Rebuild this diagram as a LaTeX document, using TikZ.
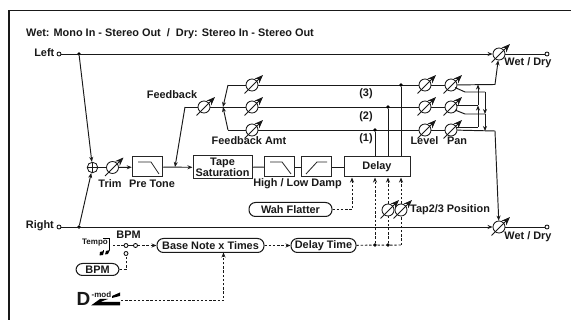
\documentclass[tikz,border=0pt]{standalone}
\usepackage{fontspec}
\setmainfont{Liberation Sans}
\usetikzlibrary{arrows.meta,calc}
\tikzset{
  x=1pt,y=-1pt,
  wire/.style={line width=0.95pt,draw=black!90},
  arr/.style={wire,-{Stealth[length=5pt,width=4pt]}},
  dsh/.style={wire,dash pattern=on 2.4pt off 1.8pt},
  darr/.style={dsh,-{Stealth[length=5pt,width=4pt]}},
  lbl/.style={font=\bfseries\fontsize{10.9}{12}\selectfont,inner sep=0pt,text=black!90},
  fx/.style={draw=black!85,line width=1pt,fill=white,inner sep=0pt,align=center,font=\bfseries\fontsize{10.9}{11}\selectfont,text=black!90},
  pill/.style={draw=black!90,line width=1pt,fill=white,rounded corners=6.5pt,inner sep=0pt,font=\bfseries\fontsize{10.9}{12}\selectfont,text=black!90},
  term/.style={circle,draw=black,line width=0.8pt,fill=white,minimum size=4pt,inner sep=0pt},
  jdot/.style={circle,fill=black,minimum size=3.6pt,inner sep=0pt},
  knob/.style={circle,draw=black!90,line width=0.85pt,fill=white,minimum size=12pt,inner sep=0pt},
}
\newcommand{\knobat}[2]{%
  \node[knob] (#2) at (#1) {};
  \draw[line width=0.85pt,black!90,-{Stealth[length=8.5pt,width=6.5pt]}] ($(#1)+(-7.5,8.5)$) -- ($(#1)+(11,-10)$);
}
\begin{document}
\begin{tikzpicture}
\useasboundingbox (0,0) rectangle (571,320);
\fill[white] (0,0) rectangle (571,320);
\draw[line width=1.1pt,black!90] (9,320) -- (9,10.5) -- (571,10.5);
\node[lbl,anchor=west] (title) at (26,34) {Wet: Mono In - Stereo Out \ / \ Dry: Stereo In - Stereo Out};
% terminals
\node[lbl,anchor=east] (left) at (54.5,52.5) {Left};
\node[lbl,anchor=east] (right) at (54,226) {Right};
\node[term] (tl) at (59,54) {};
\node[term] (tr) at (59,227) {};
\node[term] (ol) at (547,54) {};
\node[term] (or) at (547,227) {};
\node[jdot] (jl) at (79,54) {};
\node[jdot] (jr) at (79,227) {};
\node[circle,draw=black!90,line width=0.85pt,minimum size=10.5pt,inner sep=0pt] (sum) at (92.5,167.5) {};
\draw[line width=0.85pt,black!90] (sum.north)--(sum.south) (sum.west)--(sum.east);
% knobs
\knobat{112.5,167.5}{ktrim}
\knobat{204,107}{kfb}
\foreach \y/\n in {85/a,107/b,130/c}{
  \knobat{252,\y}{kin\n}
  \knobat{425,\y}{klv\n}
  \knobat{451,\y}{kpn\n}
}
\knobat{499,54}{kwl}
\knobat{499,227}{kwr}
\knobat{388,210}{kt2}
\knobat{401,210}{kt3}
% boxes
\node[fx,minimum width=30.5pt,minimum height=20pt] (pre) at (147.5,167) {};
\node[fx,minimum width=59pt,minimum height=23pt] (tape) at (222.5,167.5) {Tape\\Saturation};
\node[fx,minimum width=30.5pt,minimum height=20pt] (high) at (279.5,167) {};
\node[fx,minimum width=30.5pt,minimum height=20pt] (low) at (316.5,167) {};
\node[fx,minimum width=66pt,minimum height=20pt] (delay) at (377,167) {Delay};
\draw[line width=0.8pt,black!85] (138,162) -- (151,162) -- (159,174);
\draw[line width=0.8pt,black!85] (270,162) -- (282,162) -- (291,174);
\draw[line width=0.8pt,black!85] (306,174) -- (317,162) -- (327,162);
% pills
\node[pill,minimum width=83pt,minimum height=14pt] (wah) at (290.5,209.5) {Wah Flatter};
\node[pill,minimum width=107pt,minimum height=14pt] (base) at (210.5,245.5) {Base Note x Times};
\node[pill,minimum width=65pt,minimum height=14pt] (dt) at (323.5,245.5) {Delay Time};
\node[pill,minimum width=43pt,minimum height=12pt] (bpm) at (97.5,269.5) {BPM};
% labels
\node[lbl] (lfb) at (172,95) {Feedback};
\node[lbl] (lfa) at (249,141) {Feedback Amt};
\node[lbl] (l3) at (366,94) {(3)};
\node[lbl] (l2) at (366,117) {(2)};
\node[lbl] (l1) at (366,139) {(1)};
\node[lbl] (llv) at (424.5,141) {Level};
\node[lbl] (lpn) at (457,141) {Pan};
\node[lbl] (lwd1) at (528,63) {Wet / Dry};
\node[lbl] (lwd2) at (528,237) {Wet / Dry};
\node[lbl] (ltr) at (110,184) {Trim};
\node[lbl] (lpt) at (152,184) {Pre Tone};
\node[lbl] (lhl) at (297.5,184) {High / Low Damp};
\node[lbl,anchor=west] (ltap) at (410,210) {Tap2/3 Position};
\node[lbl] (lb) at (128.5,235) {BPM};
\node[lbl,font=\bfseries\fontsize{8}{9}\selectfont] (ltempo) at (95,243) {Tempo};
% main wires
\draw[arr] (tl) -- (kwl);
\draw[wire] (kwl) -- (ol);
\draw[arr] (tr) -- (kwr);
\draw[wire] (kwr) -- (or);
\draw[arr] (jl) -- (sum);
\draw[arr] (jr) -- (sum);
\draw[wire] (sum) -- (ktrim);
\draw[arr] (ktrim) -- (pre);
\draw[arr] (pre) -- (tape);
\draw[wire] (tape) -- (high);
\draw[wire] (high) -- (low);
\draw[wire] (low) -- (delay);
% feedback
\coordinate (fbin) at (175,167);
\coordinate (fbt) at (185,107);
\coordinate (s0) at (223,107);
\coordinate (st) at (228,85);
\coordinate (sb) at (228,130);
\draw[arr] (fbt) -- (fbin);
\draw[wire] (fbt) -- (kfb);
\draw[wire] (kfb) -- (kinb);
\draw[arr] (st) -- (s0);
\draw[arr] (sb) -- (s0);
\draw[wire] (st) -- (kina);
\draw[wire] (sb) -- (kinc);
% taps
\foreach \n in {a,b,c}{
  \draw[wire] (kin\n) -- (klv\n);
  \draw[wire] (klv\n) -- (kpn\n);
}
\node[jdot] (d3) at (401,85) {};
\node[jdot] (d2) at (388,107) {};
\node[jdot] (d1) at (375,130) {};
\draw[wire] (d3) -- (delay.north -| d3);
\draw[wire] (d2) -- (delay.north -| d2);
\draw[wire] (d1) -- (delay.north -| d1);
% pan routing
\coordinate (ta) at (495,84.5);
\coordinate (tb) at (495,131);
\draw[wire] (kpna) -- (ta);
\draw[arr] (ta) -- (kwl);
\draw[wire] (kpnc) -- (tb);
\draw[arr] (tb) -- (kwr);
\coordinate (u0) at (478,127);
\coordinate (u1) at (478,105.5);
\coordinate (u2) at (478,84.5);
\draw[wire] (456.5,127) -- (u0);
\draw[arr] (u0) -- (u1);
\draw[wire] (456.5,105.5) -- (u1);
\draw[arr] (u1) -- (u2);
\coordinate (v0) at (485,92);
\coordinate (v1) at (485,114);
\coordinate (v2) at (485,131);
\draw[wire] (455,87.5) -- (465,92) -- (v0);
\draw[wire] (455,110) -- (465,114) -- (v1);
\draw[arr] (v0) -- (v1);
\draw[arr] (v1) -- (v2);
% modulation
\draw[darr] (wah) -| (352,177.5);
\node[jdot] (m1) at (375,245) {};
\node[jdot] (m2) at (388,245) {};
\coordinate (m3) at (401,245);
\draw[dsh] (dt) -- (m3);
\draw[darr] (m1) -- (delay.south -| m1);
\draw[dsh] (m2) -- (kt2);
\draw[darr] (kt2) -- (delay.south -| kt2);
\draw[dsh] (m3) -- (kt3);
\draw[darr] (kt3) -- (delay.south -| kt3);
\draw[darr] (base) -- (dt);
\node[term] (sw1) at (126,245.5) {};
\node[term] (sw2) at (135.5,245.5) {};
\node[term] (sw3) at (126,253.5) {};
\coordinate (tmpo) at (113,245.5);
\draw[wire] (sw1) -- (sw2);
\draw[dsh] (tmpo) -- (sw1);
\draw[darr] (sw2) -- (base);
\draw[dsh] (bpm.east) -- (126,269.5) -- (sw3);
% tempo glyph
\draw[line width=0.9pt] (103,238) -- (109,238) -- (109,250);
\draw[line width=0.9pt] (103,250) -- (103,252);
\fill (100,252) -- (104,251) -- (103,255) -- (99.5,255.5) -- cycle;
\fill (106,251) -- (110,250) -- (108,254) -- (105,254.5) -- cycle;
% D-mod
\node[lbl,anchor=west,font=\bfseries\fontsize{19}{20}\selectfont] (dd) at (76.5,299) {D};
\node[lbl,font=\bfseries\fontsize{8}{8}\selectfont,anchor=west] (dm) at (91.5,295) {-mod};
\fill[black] (91,305.5) -- (120,305.5) -- (120,302) -- (100,302) -- (108,299) -- (100,299) -- cycle;
\fill[black] (112,296) -- (120,292.5) -- (120,296) -- (112,298) -- cycle;
\coordinate (dsrc) at (121,300.5);
\coordinate (bin) at (223.5,252.5);
\draw[darr] (dsrc) -| (bin);
\end{tikzpicture}
\end{document}
